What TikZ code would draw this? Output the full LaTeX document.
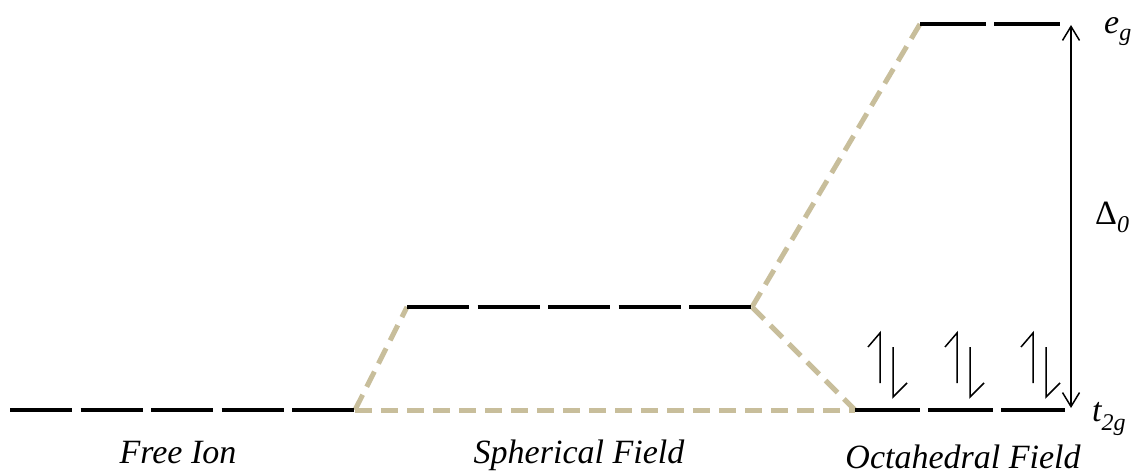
\documentclass[tikz,border=0pt]{standalone}
\usepackage{fontspec}
\setmainfont{Liberation Serif}
\usetikzlibrary{arrows.meta}
\definecolor{tanline}{RGB}{200,190,155}
\begin{document}
\begin{tikzpicture}[x=1pt,y=-1pt,
  level/.style={line width=4pt, black},
  corr/.style={line width=5pt, tanline, dash pattern=on 17pt off 9pt},
  spin/.style={line width=1.5pt, black},
  lbl/.style={font=\fontsize{34}{40}\selectfont\itshape, anchor=base, inner sep=0pt, text depth=0pt},
  sym/.style={font=\fontsize{34}{40}\selectfont\itshape, anchor=base west, inner sep=0pt}]
\useasboundingbox (0,0) rectangle (1138,473);
% level end points
\coordinate (fiA) at (10,410);
\coordinate (fiB) at (355,410);
\coordinate (spA) at (407,307);
\coordinate (spB) at (752,307);
\coordinate (tA) at (855,410);
\coordinate (tB) at (1065,410);
\coordinate (eA) at (920,24);
\coordinate (eB) at (1060,24);
% correlation lines
\draw[corr] (fiB) -- (spA);
\draw[corr] (fiB) -- (tA);
\draw[corr] (spB) -- (eA);
\draw[corr] (spB) -- (tA);
% levels
\draw[level, dash pattern=on 62pt off 8.5pt] (fiA) -- (fiB);
\draw[level, dash pattern=on 62pt off 8.5pt] (spA) -- (spB);
\draw[level, dash pattern=on 64.5pt off 8.5pt] (tA) -- (tB);
\draw[level, dash pattern=on 66pt off 8pt] (eA) -- (eB);
% splitting arrow
\coordinate (dTop) at (1071,25);
\coordinate (dBot) at (1071,408);
\draw[line width=1.5pt, {Straight Barb[length=14pt,width=17pt]}-{Straight Barb[length=14pt,width=17pt]}] (dTop) -- (dBot);
% electrons
\foreach \x in {880,957,1033}{
  \draw[spin] (\x,383) -- (\x,333) -- (\x-12,347);
  \draw[spin] (\x+13,347) -- (\x+13,397) -- (\x+27,383);
}
% labels
\node[lbl] (free) at (178,463) {Free Ion};
\node[lbl] (sph) at (579,463) {Spherical Field};
\node[lbl] (oct) at (963,468) {Octahedral Field};
\node[sym] (eg) at (1104,34) {e\raisebox{-7pt}{\fontsize{24}{28}\selectfont g}};
\node[sym] (delta) at (1095,225) {\upshape Δ\raisebox{-8pt}{\fontsize{24}{28}\selectfont\itshape 0}};
\node[sym] (t2g) at (1092,421) {t\raisebox{-9pt}{\fontsize{24}{28}\selectfont 2g}};
\end{tikzpicture}
\end{document}
